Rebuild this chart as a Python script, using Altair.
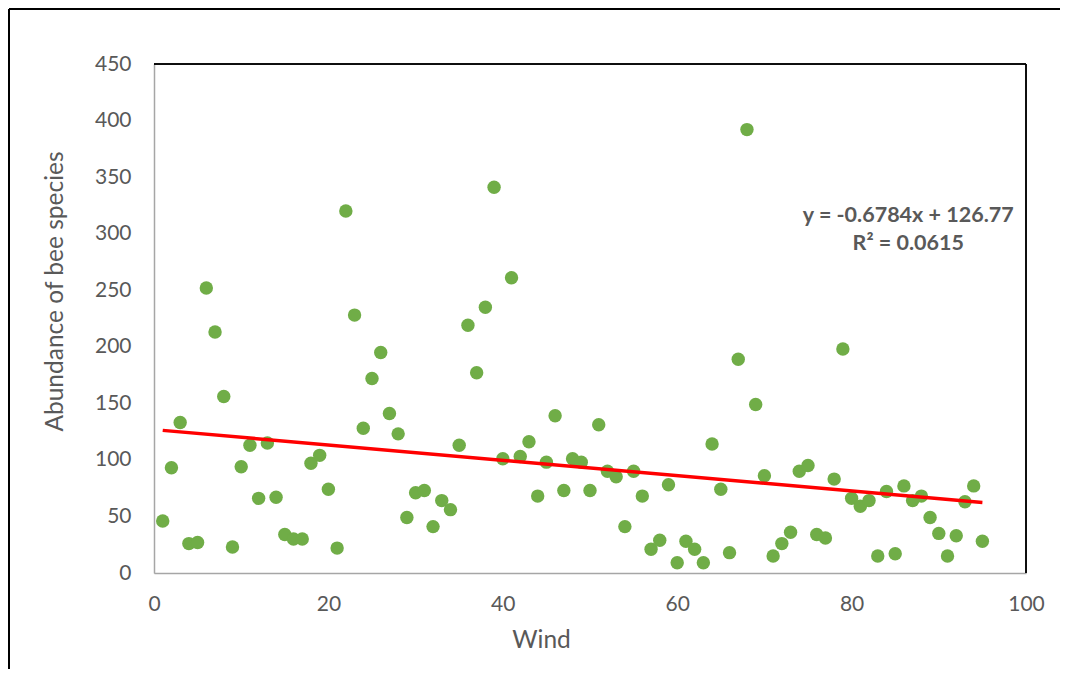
import altair as alt
import pandas as pd

wind = list(range(1, 96))
abundance = [
    46, 93, 133, 26, 27, 252, 213, 156, 23, 94,
    113, 66, 115, 67, 34, 30, 30, 97, 104, 74,
    22, 320, 228, 128, 172, 195, 141, 123, 49, 71,
    73, 41, 64, 56, 113, 219, 177, 235, 341, 101,
    261, 103, 116, 68, 98, 139, 73, 101, 98, 73,
    131, 90, 85, 41, 90, 68, 21, 29, 78, 9,
    28, 21, 9, 114, 74, 18, 189, 392, 149, 86,
    15, 26, 36, 90, 95, 34, 31, 83, 198, 66,
    59, 64, 15, 72, 17, 77, 64, 68, 49, 35,
    15, 33, 63, 77, 28,
]

slope = -0.6784
intercept = 126.77
fit_extent = [1, 95]
eq_lines = ["y = -0.6784x + 126.77", "R² = 0.0615"]
eq_x = [86.5, 86.5]
eq_y = [316, 291]

FONT = "Lato"
GREY = "#595959"

df = pd.DataFrame({"Wind": wind, "Abundance": abundance})
fit_df = pd.DataFrame({"Wind": fit_extent})
eq_df = pd.DataFrame({"label": eq_lines, "x": eq_x, "y": eq_y})

x_scale = alt.Scale(domain=[0, 100], nice=False, zero=False, padding=0)
y_scale = alt.Scale(domain=[0, 450], nice=False, padding=0)

x_axis = alt.Axis(
    title="Wind", values=[0, 20, 40, 60, 80, 100], grid=False, ticks=False,
    domainColor="#A6A6A6", domainWidth=1.5, labelFont=FONT, labelFontSize=21,
    labelColor=GREY, labelPadding=20, labelFlush=False, titleFont=FONT,
    titleFontSize=24.5, titleFontWeight="normal", titleColor=GREY, titleX=387,
    titleY=74, titleBaseline="alphabetic",
)
y_axis = alt.Axis(
    title="Abundance of bee species", values=list(range(0, 451, 50)), grid=False,
    ticks=False, domainColor="#A6A6A6", domainWidth=1.5, labelFont=FONT,
    labelFontSize=21, labelColor=GREY, labelPadding=23, labelFlush=False,
    titleFont=FONT, titleFontSize=24.5, titleFontWeight="normal", titleColor=GREY,
    titleX=-92, titleY=227, titleBaseline="alphabetic",
)

base = alt.Chart(fit_df)
frame_left = base.mark_rule(color="black", strokeWidth=2).encode(
    x=alt.value(-145), y=alt.value(-55), y2=alt.value(607)
)
frame_top = base.mark_rule(color="black", strokeWidth=2).encode(
    x=alt.value(-145), x2=alt.value(906), y=alt.value(-55)
)
plot_top = base.mark_rule(color="black", strokeWidth=1.5).encode(
    x=alt.value(0), x2=alt.value(872), y=alt.value(0)
)
plot_right = base.mark_rule(color="black", strokeWidth=1.5).encode(
    x=alt.value(872), y=alt.value(0), y2=alt.value(509)
)

points = alt.Chart(df).mark_circle(size=180, color="#70AD47", opacity=1).encode(
    x=alt.X("Wind:Q", scale=x_scale, axis=x_axis),
    y=alt.Y("Abundance:Q", scale=y_scale, axis=y_axis),
)

trend = alt.Chart(fit_df).transform_calculate(
    fit=f"{slope} * datum.Wind + {intercept}"
).mark_line(color="#FF0000", strokeWidth=3.5).encode(
    x=alt.X("Wind:Q", scale=x_scale),
    y=alt.Y("fit:Q", scale=y_scale),
)

eq = alt.Chart(eq_df).mark_text(
    font=FONT, fontSize=21.5, fontWeight="bold", color=GREY, align="center",
    baseline="middle",
).encode(
    x=alt.X("x:Q", scale=x_scale),
    y=alt.Y("y:Q", scale=y_scale),
    text="label:N",
)

chart = alt.layer(points, trend, eq, plot_top, plot_right, frame_left, frame_top).properties(
    width=872, height=509,
    autosize=alt.AutoSizeParams(type="none"),
    padding={"left": 146, "top": 56, "right": 34, "bottom": 96},
).configure_view(stroke=None).configure(background="white")

chart.save("out.html", embed_options={"renderer": "svg", "actions": False})
